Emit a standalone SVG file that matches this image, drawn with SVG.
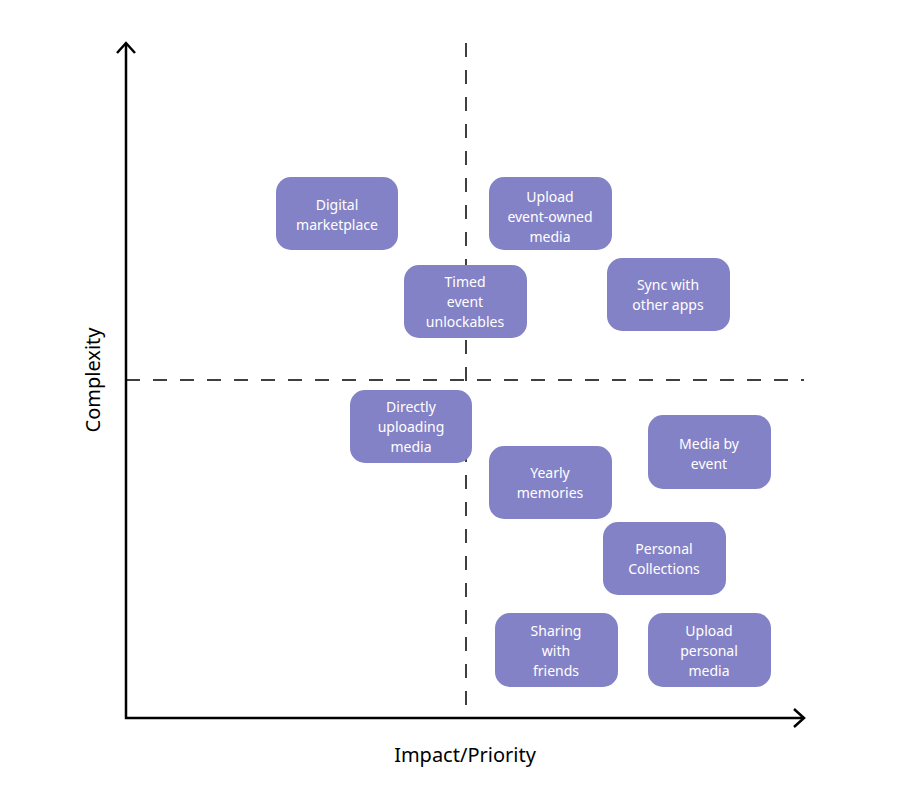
<svg xmlns="http://www.w3.org/2000/svg" width="903" height="796" viewBox="0 0 903 796">
<style>
.box{fill:#8482c6}
.t{font-family:"Noto Sans","DejaVu Sans",sans-serif;font-size:14px;fill:#ffffff;text-anchor:middle}
.ax{stroke:#000;stroke-width:2.5;fill:none}
.dash{stroke:#000;stroke-width:1.5;stroke-dasharray:14 13;fill:none}
.lbl{font-family:"Noto Sans","DejaVu Sans",sans-serif;font-size:20px;fill:#000;text-anchor:middle}
</style>
<rect width="903" height="796" fill="#fff"/>
<g id="connectors">
<line class="dash" x1="466" y1="43" x2="466" y2="718"/>
<line class="dash" x1="126" y1="380" x2="804" y2="380"/>
<polyline class="ax" points="126,43 126,718 804,718"/>
<polyline class="ax" points="117,53 126,43 135,53"/>
<polyline class="ax" points="794,709 804,718 794,727"/>
</g>
<text class="lbl" x="465" y="762">Impact/Priority</text>
<text class="lbl" transform="translate(100,380) rotate(-90)">Complexity</text>
<g id="n1"><rect class="box" x="276" y="177" width="122" height="73" rx="15"/><text class="t" x="337" y="210">Digital</text><text class="t" x="337" y="230">marketplace</text></g>
<g id="n2"><rect class="box" x="489" y="177" width="123" height="73" rx="15"/><text class="t" x="550" y="202">Upload</text><text class="t" x="550" y="222">event-owned</text><text class="t" x="550" y="242">media</text></g>
<g id="n3"><rect class="box" x="404" y="265" width="123" height="73" rx="15"/><text class="t" x="465" y="287">Timed</text><text class="t" x="465" y="307">event</text><text class="t" x="465" y="327">unlockables</text></g>
<g id="n4"><rect class="box" x="607" y="258" width="123" height="73" rx="15"/><text class="t" x="668" y="290">Sync with</text><text class="t" x="668" y="310">other apps</text></g>
<g id="n5"><rect class="box" x="350" y="390" width="122" height="73" rx="15"/><text class="t" x="411" y="412">Directly</text><text class="t" x="411" y="432">uploading</text><text class="t" x="411" y="452">media</text></g>
<g id="n6"><rect class="box" x="648" y="415" width="123" height="74" rx="15"/><text class="t" x="709" y="449">Media by</text><text class="t" x="709" y="469">event</text></g>
<g id="n7"><rect class="box" x="489" y="446" width="123" height="73" rx="15"/><text class="t" x="550" y="478">Yearly</text><text class="t" x="550" y="498">memories</text></g>
<g id="n8"><rect class="box" x="603" y="522" width="123" height="73" rx="15"/><text class="t" x="664" y="554">Personal</text><text class="t" x="664" y="574">Collections</text></g>
<g id="n9"><rect class="box" x="495" y="613" width="123" height="74" rx="15"/><text class="t" x="556" y="636">Sharing</text><text class="t" x="556" y="656">with</text><text class="t" x="556" y="676">friends</text></g>
<g id="n10"><rect class="box" x="648" y="613" width="123" height="74" rx="15"/><text class="t" x="709" y="636">Upload</text><text class="t" x="709" y="656">personal</text><text class="t" x="709" y="676">media</text></g>
</svg>
